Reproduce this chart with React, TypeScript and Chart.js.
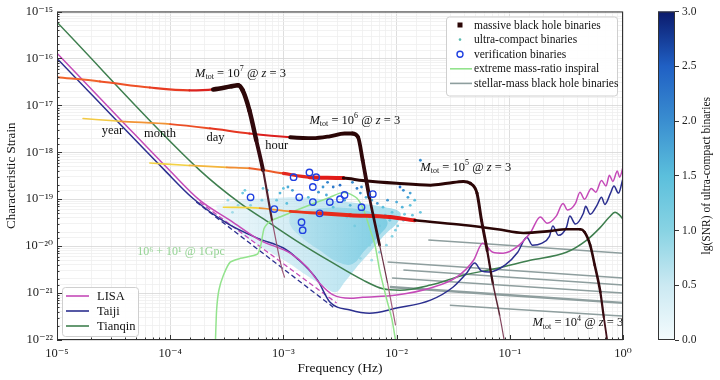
import React, { useEffect, useRef } from 'react';
import { Chart, registerables } from 'chart.js';

Chart.register(...registerables);

const SERIF = '"Liberation Serif", "DejaVu Serif", "Times New Roman", serif';

// ---------------- data: [log10 f (Hz), log10 h_c] ----------------
const lisaCurve = [
  [-5.0, -15.89], [-4.44, -17.30], [-4.0, -18.40], [-3.74, -19.02], [-3.47, -19.45],
  [-3.21, -19.87], [-2.94, -20.15], [-2.79, -20.45], [-2.68, -20.79], [-2.56, -21.04],
  [-2.41, -21.11], [-2.30, -21.09], [-2.00, -21.04], [-1.70, -20.89], [-1.47, -20.66],
  [-1.32, -20.30], [-1.24, -19.94], [-1.15, -20.13], [-1.06, -20.15], [-0.94, -20.02],
  [-0.82, -19.72], [-0.73, -19.38], [-0.67, -19.51], [-0.59, -19.36], [-0.53, -19.09],
  [-0.49, -19.23], [-0.42, -19.09], [-0.38, -18.85], [-0.34, -19.00], [-0.28, -18.77],
  [-0.24, -18.85], [-0.19, -18.60], [-0.15, -18.72], [-0.12, -18.49], [-0.09, -18.62],
  [-0.05, -18.40], [-0.03, -18.53], [0.0, -18.32],
];
const taijiCurve = [
  [-5.0, -16.0], [-4.05, -18.38], [-3.80, -18.98], [-3.50, -19.51], [-3.23, -19.83],
  [-3.00, -20.04], [-2.88, -20.26], [-2.70, -20.72], [-2.59, -21.19], [-2.41, -21.36],
  [-2.24, -21.43], [-2.00, -21.32], [-1.70, -21.15], [-1.50, -20.87], [-1.38, -20.57],
  [-1.31, -20.36], [-1.25, -20.53], [-1.18, -20.55], [-1.04, -20.40], [-0.93, -20.13],
  [-0.85, -19.81], [-0.80, -19.98], [-0.72, -19.94], [-0.65, -19.79], [-0.62, -19.57],
  [-0.57, -19.77], [-0.50, -19.60], [-0.47, -19.36], [-0.42, -19.53], [-0.35, -19.30],
  [-0.33, -19.15], [-0.29, -19.32], [-0.23, -19.13], [-0.19, -18.96], [-0.16, -19.11],
  [-0.11, -18.87], [-0.08, -18.72], [-0.04, -18.87], [0.0, -18.55],
];
const tianqinCurve = [
  [-5.0, -15.23], [-3.74, -18.38], [-3.38, -19.09], [-3.12, -19.51], [-2.85, -19.94],
  [-2.59, -20.32], [-2.30, -20.72], [-2.12, -20.91], [-1.97, -20.94], [-1.70, -20.83],
  [-1.41, -20.62], [-1.11, -20.47], [-0.82, -20.30], [-0.50, -20.13], [-0.32, -19.87],
  [-0.20, -19.60], [-0.12, -19.38], [-0.07, -19.28], [-0.03, -19.34], [0.0, -19.43],
];
const lisaDashed = [[-3.74, -19.06], [-2.53, -21.21]];
const taijiDashed = [[-3.77, -19.06], [-2.56, -21.30]];

// massive black hole binary tracks, M_tot = 10^7 ... 10^4 at z = 3
const mbhb1e7 = [
  [-5.0, -16.40], [-4.62, -16.49], [-4.18, -16.62], [-3.83, -16.68], [-3.62, -16.66],
  [-3.47, -16.60], [-3.40, -16.57], [-3.36, -16.68], [-3.30, -17.11], [-3.24, -17.74],
  [-3.18, -18.38], [-3.10, -19.45], [-3.01, -20.51], [-2.99, -20.66],
];
const mbhb1e6 = [
  [-4.77, -17.28], [-4.44, -17.34], [-4.00, -17.40], [-3.65, -17.49], [-3.30, -17.60],
  [-2.94, -17.68], [-2.74, -17.70], [-2.59, -17.66], [-2.46, -17.60], [-2.39, -17.60],
  [-2.34, -17.68], [-2.30, -18.17], [-2.24, -18.96], [-2.15, -19.98], [-2.08, -20.79],
  [-2.01, -21.68],
];
const mbhb1e5 = [
  [-4.18, -18.23], [-3.83, -18.28], [-3.50, -18.32], [-3.30, -18.34], [-3.00, -18.45],
  [-2.77, -18.53], [-2.47, -18.55], [-2.30, -18.60], [-2.00, -18.66], [-1.70, -18.70],
  [-1.55, -18.66], [-1.41, -18.62], [-1.35, -18.66], [-1.29, -18.87], [-1.25, -19.45],
  [-1.20, -20.09], [-1.15, -20.79], [-1.09, -21.47], [-1.05, -22.0], [-1.03, -22.3],
];
const mbhb1e4 = [
  [-3.53, -19.17], [-3.21, -19.19], [-2.94, -19.26], [-2.68, -19.30], [-2.41, -19.34],
  [-2.06, -19.38], [-1.84, -19.45], [-1.41, -19.55], [-1.11, -19.64], [-0.88, -19.72],
  [-0.65, -19.68], [-0.50, -19.64], [-0.38, -19.64], [-0.34, -19.70], [-0.29, -19.98],
  [-0.25, -20.40], [-0.20, -20.98], [-0.17, -21.51], [-0.14, -22.0], [-0.12, -22.3],
];

const emriTrack = [
  [-3.60, -22.0], [-3.59, -21.36], [-3.57, -20.94], [-3.53, -20.62], [-3.47, -20.34],
  [-3.38, -20.26], [-3.23, -20.17], [-3.20, -19.98], [-3.17, -19.62], [-3.12, -19.47],
  [-3.03, -19.38], [-2.88, -19.23], [-2.70, -19.06], [-2.59, -18.96], [-2.50, -18.87],
  [-2.43, -18.87], [-2.35, -18.98], [-2.29, -19.23], [-2.24, -19.60], [-2.19, -19.98],
  [-2.15, -20.51], [-2.09, -21.11], [-2.04, -21.57], [-2.01, -22.0],
];

const sbbhTracks = [
  [[-1.72, -19.87], [0.0, -20.15]],
  [[-2.08, -20.34], [0.0, -20.68]],
  [[-1.94, -20.51], [0.0, -20.83]],
  [[-2.04, -20.68], [0.0, -21.00]],
  [[-2.06, -20.87], [0.0, -21.21]],
  [[-1.53, -21.26], [0.0, -21.49]],
];

const verificationBinaries = [
  [-2.91, -18.53], [-2.77, -18.43], [-2.71, -18.53], [-2.74, -18.74], [-3.29, -18.96],
  [-2.86, -18.96], [-2.74, -19.06], [-3.08, -19.21], [-2.59, -19.06], [-2.50, -19.00],
  [-2.46, -18.91], [-2.68, -19.30], [-2.84, -19.49], [-2.83, -19.66], [-2.31, -19.17],
  [-2.21, -18.89],
];

// dense part of the ultra-compact binary population (outline of the cloud)
const ucbCloudOuter = [
  [-3.60, -19.13], [-3.38, -19.02], [-3.12, -18.98], [-2.85, -18.96], [-2.59, -19.02],
  [-2.32, -19.09], [-2.10, -19.17], [-1.97, -19.28], [-1.99, -19.49], [-2.08, -19.70],
  [-2.16, -19.91], [-2.25, -20.17], [-2.36, -20.47], [-2.46, -20.77], [-2.54, -20.98],
  [-2.66, -20.83], [-2.81, -20.60], [-2.94, -20.38], [-3.10, -20.15], [-3.25, -19.94],
  [-3.40, -19.70], [-3.54, -19.40], [-3.60, -19.13],
];
const ucbCloudInner = [
  [-2.94, -19.28], [-2.68, -19.19], [-2.41, -19.19], [-2.19, -19.30], [-2.08, -19.49],
  [-2.16, -19.79], [-2.28, -20.09], [-2.39, -20.38], [-2.52, -20.34], [-2.68, -20.09],
  [-2.83, -19.83], [-2.94, -19.55], [-2.94, -19.28],
];
// individual resolved ultra-compact binaries: [log10 f, log10 h_c, lg(SNR)]
const ucbPoints = [
  [-2.35, -18.77, 2.2], [-2.31, -18.74, 2.0], [-1.97, -18.74, 2.3], [-1.90, -18.96, 1.8],
  [-2.00, -19.06, 1.7], [-2.08, -19.02, 1.9], [-2.12, -19.17, 1.5], [-1.95, -19.17, 1.6],
  [-2.04, -19.28, 1.4], [-2.17, -19.09, 1.9], [-2.41, -19.13, 1.6], [-2.24, -19.38, 1.3],
  [-2.06, -19.45, 1.3], [-1.94, -19.45, 1.2], [-2.30, -19.23, 1.5], [-2.56, -19.17, 1.4],
  [-2.44, -19.38, 1.2], [-2.61, -18.64, 2.1], [-2.50, -18.70, 2.3], [-2.39, -18.64, 2.0],
  [-2.32, -18.87, 1.9], [-1.94, -18.81, 2.0], [-1.88, -18.87, 1.8], [-2.96, -18.74, 1.7],
  [-3.03, -18.87, 1.6], [-3.34, -18.81, 1.2], [-3.18, -18.77, 1.3], [-3.00, -18.77, 1.4],
  [-2.56, -18.74, 2.2], [-3.36, -18.87, 1.3], [-3.14, -18.81, 1.4], [-3.06, -19.02, 1.3],
  [-2.97, -19.09, 1.5], [-2.65, -18.74, 1.9], [-2.92, -18.81, 1.8], [-1.84, -19.02, 1.5],
  [-2.15, -19.57, 1.2], [-2.19, -19.70, 1.1], [-2.10, -19.34, 1.4], [-2.01, -19.66, 1.1],
  [-2.24, -19.98, 1.0], [-2.32, -20.26, 0.9], [-3.49, -19.02, 0.9], [-3.45, -19.28, 0.8],
  [-3.29, -19.13, 1.0], [-1.79, -19.28, 1.3], [-1.86, -19.34, 1.3], [-2.37, -19.57, 1.2],
  [-1.79, -18.17, 2.0], [-2.04, -19.79, 1.0], [-2.09, -19.98, 0.9], [-2.15, -20.13, 0.9],
  [-2.22, -20.30, 0.8], [-1.99, -19.57, 1.1], [-1.93, -19.32, 1.2], [-1.88, -19.13, 1.4],
  [-2.27, -18.96, 1.6], [-2.22, -19.02, 1.7], [-2.46, -19.02, 1.8], [-2.62, -18.91, 1.7],
  [-2.69, -18.85, 1.9], [-2.78, -18.96, 1.5], [-3.19, -19.02, 1.1], [-3.40, -19.13, 0.9],
];

const colorbarTicks = [0, 0.5, 1, 1.5, 2, 2.5, 3];

// ---------------- annotations (positions in data space) ----------------
const mbhbLabels = [
  { exp: 7, lf: -3.78, lh: -16.32 },
  { exp: 6, lf: -2.77, lh: -17.32 },
  { exp: 5, lf: -1.79, lh: -18.32 },
  { exp: 4, lf: -0.80, lh: -21.64 },
];
const timeLabels = [
  { text: 'year', lf: -4.51, lh: -17.53 },
  { text: 'month', lf: -4.09, lh: -17.60 },
  { text: 'day', lf: -3.60, lh: -17.70 },
  { text: 'hour', lf: -3.06, lh: -17.87 },
];
const emriLabel = { text: '10⁶ + 10¹ @ 1Gpc', lf: -3.905, lh: -20.13 };

// ---------------- styles ----------------
const C_LISA = '#c54ab8';
const C_TAIJI = '#2b2f8f';
const C_TIANQIN = '#3f7f4f';
const C_EMRI = '#93e38d';
const C_SBBH = '#8e9e9e';
const C_VB = '#2040e0';
const C_BLACK = '#2b0606';

const cmapStops: [number, string][] = [
  [0, '#f4fbfd'], [0.5, '#cbe9f2'], [1, '#88d3e3'], [1.5, '#5bbfdc'],
  [2, '#3a8ed0'], [2.5, '#2060c4'], [3, '#0b1a6c'],
];

const mbhbStyles = [
  { data: mbhb1e7, peak: -3.40,
    colors: [[-5.0, '#f26b2c'], [-4.1, '#ec4424'], [-3.67, '#da1e1e'], [-3.62, C_BLACK]],
    widths: [[-5.0, 2], [-3.67, 2.2], [-3.62, 4.5]] },
  { data: mbhb1e6, peak: -2.39,
    colors: [[-4.77, '#f3e04a'], [-4.3, '#f3a23a'], [-3.8, '#ec4a24'], [-3.1, '#dc1e1e'], [-3.05, C_BLACK]],
    widths: [[-4.77, 1.5], [-3.1, 2.2], [-3.05, 3.8]] },
  { data: mbhb1e5, peak: -1.41,
    colors: [[-4.18, '#f3e04a'], [-3.6, '#f3b03a'], [-3.2, '#ef6a2a'], [-3.0, '#e42a1e'], [-2.5, '#e01818'], [-2.46, C_BLACK]],
    widths: [[-4.18, 1.5], [-3.0, 2], [-2.8, 4], [-2.5, 4], [-2.46, 3]] },
  { data: mbhb1e4, peak: -0.38,
    colors: [[-3.53, '#f5f040'], [-3.3, '#f3c83a'], [-3.05, '#f08a2e'], [-2.9, '#e8361e'], [-1.86, '#e41818'], [-1.82, C_BLACK]],
    widths: [[-3.53, 1.5], [-2.9, 2], [-2.7, 4], [-1.86, 4], [-1.82, 2.6]] },
];

// ---------------- helpers ----------------
const toPts = (arr: number[][]) => arr.map((d) => ({ x: Math.pow(10, d[0]), y: Math.pow(10, d[1]) }));
const SUP: Record<string, string> = { '-': '⁻', '0': '⁰', '1': '¹', '2': '²', '3': '³', '4': '⁴', '5': '⁵', '6': '⁶', '7': '⁷', '8': '⁸', '9': '⁹' };
const sup = (n: number) => String(n).split('').map((c) => SUP[c] || c).join('');
const isDecade = (v: number) => { const e = Math.log10(v); return Math.abs(e - Math.round(e)) < 1e-6; };

function hexToRgb(h: string) {
  const n = parseInt(h.slice(1), 16);
  return [(n >> 16) & 255, (n >> 8) & 255, n & 255];
}
function interpColor(stops: any[], v: number) {
  if (v <= stops[0][0]) return stops[0][1];
  const last = stops[stops.length - 1];
  if (v >= last[0]) return last[1];
  for (let i = 0; i < stops.length - 1; i++) {
    const a = stops[i], b = stops[i + 1];
    if (v >= a[0] && v <= b[0]) {
      const t = (v - a[0]) / (b[0] - a[0]);
      const A = hexToRgb(a[1]), B = hexToRgb(b[1]);
      const c = A.map((x, k) => Math.round(x + (B[k] - x) * t));
      return `rgb(${c[0]},${c[1]},${c[2]})`;
    }
  }
  return last[1];
}
function interpNum(stops: number[][], v: number) {
  if (v <= stops[0][0]) return stops[0][1];
  const last = stops[stops.length - 1];
  if (v >= last[0]) return last[1];
  for (let i = 0; i < stops.length - 1; i++) {
    const a = stops[i], b = stops[i + 1];
    if (v >= a[0] && v <= b[0]) return a[1] + (b[1] - a[1]) * (v - a[0]) / (b[0] - a[0]);
  }
  return last[1];
}

function mbhbDataset(st: any, i: number) {
  const peakPt = st.data.reduce((best: number[], d: number[]) => (Math.abs(d[0] - st.peak) < Math.abs(best[0] - st.peak) ? d : best), st.data[0]);
  const peakLh = peakPt[1];
  const lastW = st.widths[st.widths.length - 1][1];
  const mid = (c: any) => [
    (Math.log10(c.p0.parsed.x) + Math.log10(c.p1.parsed.x)) / 2,
    (Math.log10(c.p0.parsed.y) + Math.log10(c.p1.parsed.y)) / 2,
  ];
  return {
    type: 'line',
    label: i === 0 ? 'massive black hole binaries' : '',
    data: toPts(st.data),
    xAxisID: 'x', yAxisID: 'y',
    pointRadius: 0, borderColor: C_BLACK, borderWidth: 2, fill: false, tension: 0.3,
    cubicInterpolationMode: 'monotone',
    borderCapStyle: 'round', borderJoinStyle: 'round',
    clip: 0, order: 4,
    segment: {
      borderColor: (c: any) => {
        const [lf, lh] = mid(c);
        if (lf > st.peak) return interpColor([[0, C_BLACK], [2.0, '#3a0c14'], [3.6, '#a4607f']], peakLh - lh);
        return interpColor(st.colors, lf);
      },
      borderWidth: (c: any) => {
        const [lf, lh] = mid(c);
        if (lf > st.peak) return interpNum([[0, lastW], [1.2, lastW], [2.8, 1.2]], peakLh - lh);
        return interpNum(st.widths, lf);
      },
    },
  };
}

function drawMtot(ctx: CanvasRenderingContext2D, x: number, y: number, exp: number, size: number) {
  ctx.save();
  ctx.fillStyle = '#111';
  ctx.textBaseline = 'middle';
  ctx.textAlign = 'left';
  let cx = x;
  const put = (t: string, font: string, dy: number) => {
    ctx.font = font;
    ctx.fillText(t, cx, y + dy);
    cx += ctx.measureText(t).width;
  };
  put('M', `italic ${size}px ${SERIF}`, 0);
  put('tot', `${Math.round(size * 0.62)}px ${SERIF}`, size * 0.3);
  put(' = 10', `${size}px ${SERIF}`, 0);
  put(String(exp), `${Math.round(size * 0.65)}px ${SERIF}`, -size * 0.35);
  put(' @ ', `${size}px ${SERIF}`, 0);
  put('z', `italic ${size}px ${SERIF}`, 0);
  put(' = 3', `${size}px ${SERIF}`, 0);
  ctx.restore();
}

// horizontal gradient helper for the population cloud
function cloudFill(stops: [number, string][]) {
  return (c: any) => {
    const chart = c.chart;
    const xs = chart.scales && chart.scales.x;
    if (!chart.chartArea || !xs) return stops[stops.length - 1][1];
    const x0 = xs.getPixelForValue(Math.pow(10, -3.6));
    const x1 = xs.getPixelForValue(Math.pow(10, -2.0));
    const g = chart.ctx.createLinearGradient(x0, 0, x1, 0);
    stops.forEach((s) => g.addColorStop(s[0], s[1]));
    return g;
  };
}

const decorPlugin = {
  id: 'decor',
  afterDatasetsDraw(chart: any) {
    const { ctx, chartArea: a, scales } = chart;
    const xs = scales.x, ys = scales.y;
    const px = (lf: number) => xs.getPixelForValue(Math.pow(10, lf));
    const py = (lh: number) => ys.getPixelForValue(Math.pow(10, lh));
    ctx.save();

    // annotations
    mbhbLabels.forEach((l) => drawMtot(ctx, px(l.lf), py(l.lh), l.exp, 12.5));
    ctx.fillStyle = '#111';
    ctx.font = `12.5px ${SERIF}`;
    ctx.textAlign = 'center';
    ctx.textBaseline = 'middle';
    timeLabels.forEach((l) => ctx.fillText(l.text, px(l.lf), py(l.lh)));
    ctx.fillStyle = '#94d393';
    ctx.font = `12px ${SERIF}`;
    ctx.fillText(emriLabel.text, px(emriLabel.lf), py(emriLabel.lh));

    // frame
    ctx.strokeStyle = '#333';
    ctx.lineWidth = 1;
    ctx.strokeRect(a.left + 0.5, a.top + 0.5, a.right - a.left - 1, a.bottom - a.top - 1);
    // inward ticks
    ctx.beginPath();
    xs.ticks.forEach((t: any) => {
      const p = Math.round(xs.getPixelForValue(t.value)) + 0.5;
      const L = isDecade(t.value) ? 5 : 2.5;
      ctx.moveTo(p, a.bottom); ctx.lineTo(p, a.bottom - L);
    });
    ys.ticks.forEach((t: any) => {
      const p = Math.round(ys.getPixelForValue(t.value)) + 0.5;
      const L = isDecade(t.value) ? 5 : 2.5;
      ctx.moveTo(a.left, p); ctx.lineTo(a.left + L, p);
    });
    ctx.stroke();

    // upper-right legend
    const lgR = a.right - 6, lgT = a.top + 5, lgW = 171, lgH = 79;
    const lgL = lgR - lgW;
    ctx.fillStyle = 'rgba(255,255,255,0.9)';
    ctx.strokeStyle = '#cfcfcf';
    ctx.lineWidth = 1;
    ctx.beginPath();
    ctx.roundRect(lgL + 0.5, lgT + 0.5, lgW, lgH, 3);
    ctx.fill(); ctx.stroke();
    const rows = ['massive black hole binaries', 'ultra-compact binaries', 'verification binaries',
      'extreme mass-ratio inspiral', 'stellar-mass black hole binaries'];
    ctx.font = `11.5px ${SERIF}`;
    ctx.textAlign = 'left';
    ctx.textBaseline = 'middle';
    rows.forEach((r, i) => {
      const y = lgT + 8.5 + i * 14.6;
      const mx = lgL + 14;
      if (i === 0) { ctx.fillStyle = C_BLACK; ctx.fillRect(mx - 2.5, y - 2.5, 5, 5); }
      if (i === 1) { ctx.fillStyle = '#5cbcb0'; ctx.beginPath(); ctx.arc(mx, y, 1.3, 0, Math.PI * 2); ctx.fill(); }
      if (i === 2) { ctx.strokeStyle = C_VB; ctx.lineWidth = 1.4; ctx.beginPath(); ctx.arc(mx, y, 3, 0, Math.PI * 2); ctx.stroke(); }
      if (i === 3 || i === 4) {
        ctx.strokeStyle = i === 3 ? C_EMRI : C_SBBH; ctx.lineWidth = 1.6;
        ctx.beginPath(); ctx.moveTo(lgL + 4, y); ctx.lineTo(lgL + 26, y); ctx.stroke();
      }
      ctx.fillStyle = '#111';
      ctx.fillText(r, lgL + 28, y + 0.5);
    });

    // lower-left legend
    const l2L = a.left + 5, l2B = a.bottom - 4, l2W = 76, l2H = 49;
    const l2T = l2B - l2H;
    ctx.fillStyle = 'rgba(255,255,255,0.9)';
    ctx.strokeStyle = '#cfcfcf';
    ctx.lineWidth = 1;
    ctx.beginPath();
    ctx.roundRect(l2L + 0.5, l2T + 0.5, l2W, l2H, 3);
    ctx.fill(); ctx.stroke();
    [['LISA', C_LISA], ['Taiji', C_TAIJI], ['Tianqin', C_TIANQIN]].forEach((r, i) => {
      const y = l2T + 9 + i * 15;
      ctx.strokeStyle = r[1]; ctx.lineWidth = 1.6;
      ctx.beginPath(); ctx.moveTo(l2L + 4, y); ctx.lineTo(l2L + 27, y); ctx.stroke();
      ctx.fillStyle = '#111';
      ctx.font = `12.5px ${SERIF}`;
      ctx.fillText(r[0], l2L + 35, y + 0.5);
    });

    // colour bar
    const cb = scales.cb;
    const top = cb.getPixelForValue(3), bot = cb.getPixelForValue(0);
    const x2 = cb.left, x1 = x2 - 17;
    const g = ctx.createLinearGradient(0, bot, 0, top);
    cmapStops.forEach((s) => g.addColorStop(s[0] / 3, s[1]));
    ctx.fillStyle = g;
    ctx.fillRect(x1, top, x2 - x1, bot - top);
    ctx.strokeStyle = '#333';
    ctx.lineWidth = 1;
    ctx.strokeRect(x1 + 0.5, top + 0.5, x2 - x1 - 1, bot - top - 1);
    ctx.save();
    ctx.translate(cb.left + 32, (top + bot) / 2);
    ctx.rotate(-Math.PI / 2);
    ctx.fillStyle = '#111';
    ctx.font = `11.5px ${SERIF}`;
    ctx.textAlign = 'center';
    ctx.textBaseline = 'middle';
    ctx.fillText('lg(SNR) of ultra-compact binaries', 0, 0);
    ctx.restore();

    ctx.restore();
  },
};

export default function App() {
  const ref = useRef<HTMLCanvasElement | null>(null);
  useEffect(() => {
    if (!ref.current) return;
    const lineDs = (label: string, data: number[][], color: string, width: number, order: number, extra: any = {}) => ({
      type: 'line', label, data: toPts(data), xAxisID: 'x', yAxisID: 'y',
      borderColor: color, borderWidth: width, pointRadius: 0, fill: false, tension: 0.35,
      cubicInterpolationMode: 'monotone', clip: 0, order, ...extra,
    });
    const datasets: any[] = [
      { type: 'scatter', label: 'verification binaries', data: toPts(verificationBinaries), xAxisID: 'x', yAxisID: 'y',
        pointRadius: 3.2, pointBorderWidth: 1.4, pointBorderColor: C_VB, pointBackgroundColor: 'rgba(0,0,0,0)',
        showLine: false, clip: 0, order: 1 },
      ...mbhbStyles.map((s, i) => mbhbDataset(s, i)),
      lineDs('extreme mass-ratio inspiral', emriTrack, C_EMRI, 1.5, 5, { tension: 0.2, cubicInterpolationMode: 'default' }),
      lineDs('LISA', lisaCurve, C_LISA, 1.5, 6),
      lineDs('Taiji', taijiCurve, C_TAIJI, 1.5, 6),
      lineDs('Tianqin', tianqinCurve, C_TIANQIN, 1.5, 6),
      lineDs('', lisaDashed, C_LISA, 1.3, 6, { borderDash: [5, 3], tension: 0 }),
      lineDs('', taijiDashed, C_TAIJI, 1.3, 6, { borderDash: [5, 3], tension: 0 }),
      ...sbbhTracks.map((t, i) => lineDs(i === 0 ? 'stellar-mass black hole binaries' : '', t, C_SBBH, i === 4 ? 2.4 : 1.5, 7, { tension: 0 })),
      { type: 'scatter', label: 'ultra-compact binaries', data: toPts(ucbPoints), xAxisID: 'x', yAxisID: 'y',
        pointRadius: 1.4, pointBorderWidth: 0,
        pointBackgroundColor: (c: any) => interpColor(cmapStops, ucbPoints[c.dataIndex] ? ucbPoints[c.dataIndex][2] : 0),
        showLine: false, clip: 0, order: 8 },
      { type: 'line', label: '', data: toPts(ucbCloudInner), xAxisID: 'x', yAxisID: 'y', pointRadius: 0,
        borderWidth: 0, borderColor: 'rgba(0,0,0,0)',
        backgroundColor: cloudFill([[0, 'rgba(150,210,230,0.0)'], [0.45, 'rgba(130,205,226,0.35)'], [1, 'rgba(100,196,222,0.7)']]),
        fill: 'shape', tension: 0.4, clip: 0, order: 9 },
      { type: 'line', label: '', data: toPts(ucbCloudOuter), xAxisID: 'x', yAxisID: 'y', pointRadius: 0,
        borderWidth: 0, borderColor: 'rgba(0,0,0,0)',
        backgroundColor: cloudFill([[0, 'rgba(215,238,246,0.45)'], [0.5, 'rgba(180,224,238,0.65)'], [1, 'rgba(140,212,232,0.75)']]),
        fill: 'shape', tension: 0.4, clip: 0, order: 10 },
    ];

    const gridColor = (c: any) => (c.tick && isDecade(c.tick.value) ? '#d6d6d6' : '#efefef');
    const tickCb = (v: any) => (isDecade(Number(v)) ? '10' + sup(Math.round(Math.log10(Number(v)))) : '');

    const chart = new Chart(ref.current, {
      type: 'scatter',
      data: { datasets },
      plugins: [decorPlugin],
      options: {
        responsive: false,
        devicePixelRatio: 1,
        animation: false,
        events: [],
        layout: { padding: { top: 11, left: 0, right: 0, bottom: 0 } },
        plugins: { legend: { display: false }, tooltip: { enabled: false } },
        scales: {
          x: {
            type: 'logarithmic', position: 'bottom', min: 1e-5, max: 1,
            grid: { color: gridColor, lineWidth: 0.8, drawTicks: false },
            border: { display: false },
            ticks: { autoSkip: false, maxRotation: 0, padding: 6, color: '#222', font: { family: SERIF, size: 12.5 }, callback: tickCb },
            title: { display: true, text: 'Frequency (Hz)', color: '#111', font: { family: SERIF, size: 13.5 }, padding: { top: 2, bottom: 3 } },
            afterFit: (s: any) => { s.height = 40; },
          },
          y: {
            type: 'logarithmic', position: 'left', min: 1e-22, max: 1e-15,
            grid: { color: gridColor, lineWidth: 0.8, drawTicks: false },
            border: { display: false },
            ticks: { autoSkip: false, padding: 4, color: '#222', font: { family: SERIF, size: 12.5 }, callback: tickCb },
            title: { display: true, text: 'Characteristic Strain', color: '#111', font: { family: SERIF, size: 13 }, padding: { top: 4, bottom: 2 } },
            afterFit: (s: any) => { s.width = 57; },
          },
          gap: {
            type: 'linear', axis: 'y', position: 'right', weight: 0, min: 0, max: 1,
            grid: { display: false }, border: { display: false }, ticks: { display: false },
            afterFit: (s: any) => { s.width = 52; },
          },
          cb: {
            type: 'linear', axis: 'y', position: 'right', weight: 1, min: 0, max: 3,
            grid: { drawOnChartArea: false, drawTicks: true, tickLength: 4, color: '#333' },
            border: { display: false },
            afterBuildTicks: (s: any) => { s.ticks = colorbarTicks.map((v) => ({ value: v })); },
            ticks: { padding: 3, color: '#222', font: { family: SERIF, size: 11.5 }, callback: (v: any) => Number(v).toFixed(1) },
            afterFit: (s: any) => { s.width = 45; },
          },
        },
      } as any,
    } as any);
    return () => chart.destroy();
  }, []);

  return (
    <div style={{ position: 'fixed', left: 0, top: 0, width: 720, height: 380, background: '#fff' }}>
      <canvas ref={ref} width={720} height={380} style={{ width: 720, height: 380, display: 'block' }} />
    </div>
  );
}
